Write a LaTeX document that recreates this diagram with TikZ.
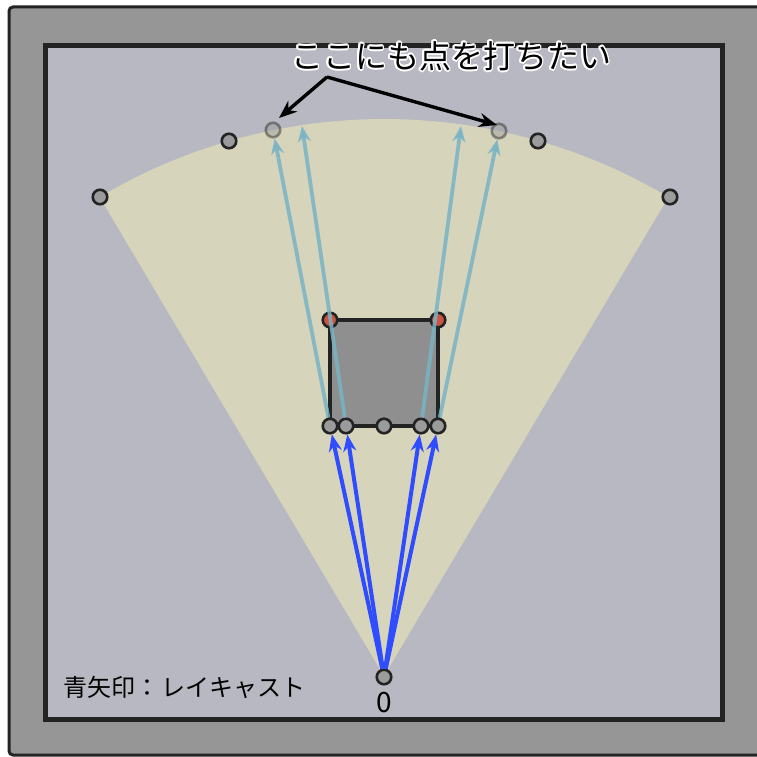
\documentclass[tikz,border=0pt]{standalone}
\usepackage{fontspec}
\setmainfont{Noto Sans CJK JP}
\usepackage{contour}
\contourlength{1.8pt}
\usetikzlibrary{arrows.meta}
\definecolor{casing}{HTML}{969696}
\definecolor{edge}{HTML}{232323}
\definecolor{field}{HTML}{B8B8C2}
\definecolor{fan}{HTML}{D6D4BA}
\definecolor{wall}{HTML}{8F8F8F}
\definecolor{dotgray}{HTML}{9B9B9B}
\definecolor{hit}{HTML}{CB5541}
\definecolor{ray}{HTML}{2F4CFF}
\definecolor{trail}{HTML}{78B4C6}

\begin{document}
\begin{tikzpicture}[x=1pt,y=-1pt,
  dot/.style={circle,draw=edge,fill=dotgray,line width=2.6pt,minimum size=14.5pt,inner sep=0pt},
  hitdot/.style={dot,fill=hit},
  ghost/.style={dot,draw opacity=.45,fill opacity=.45},
  cast/.style={ray,line width=4pt,-{Stealth[length=17pt,width=13pt]}},
  tracer/.style={trail,opacity=.85,line width=3.8pt,-{Stealth[length=16pt,width=13pt]}},
  pointer/.style={black,line width=3.4pt,-{Stealth[length=18pt,width=14pt]}}]
\useasboundingbox (0,0) rectangle (756,757);
\fill[white] (0,0) rectangle (756,757);
\fill[casing] (9,7) rectangle (800,755);
\draw[edge,line width=3pt,rounded corners=4pt] (800,7) -- (9,7) -- (9,755) -- (800,755);
\draw[edge,fill=field,line width=5pt] (45.5,45.5) rectangle (722,719.5);
\fill[fan] (384,676) -- ++(-59.3:557) arc[start angle=-59.3,end angle=-120.7,radius=557] -- cycle;
\draw[edge,fill=wall,line width=4pt] (330,320) rectangle (438,426);
% points on the arc
\node[dot] (p1) at (100,197) {}; \node[dot] (p2) at (229,141) {};
\node[ghost] (f1) at (273,130) {}; \node[ghost] (f2) at (499,131) {};
\node[dot] (p5) at (538,141) {}; \node[dot] (p6) at (670,197) {};
% box corners and hits
\node[hitdot] (c1) at (330,320) {}; \node[hitdot] (c2) at (438,320) {};
\node[dot] (b1) at (330,426) {}; \node[dot] (b2) at (346,426) {};
\node[dot] (b3) at (384,426) {}; \node[dot] (b4) at (421,426) {};
\node[dot] (b5) at (438,426) {};
\node[dot] (o) at (384,677) {};
\coordinate (t2) at (302,126); \coordinate (t4) at (461,126);
\draw[tracer] (b1) -- (f1); \draw[tracer] (b2) -- (t2);
\draw[tracer] (b4) -- (t4); \draw[tracer] (b5) -- (f2);
\draw[cast] (o) -- (b1); \draw[cast] (o) -- (b2);
\draw[cast] (o) -- (b4); \draw[cast] (o) -- (b5);
% annotation
\coordinate (fork) at (327,77); \coordinate (aimL) at (279,118); \coordinate (aimR) at (497,125);
\draw[pointer] (fork) -- (aimL); \draw[pointer] (fork) -- (aimR);
\node[font=\fontsize{32}{32}\selectfont] (note) at (451,57) {\contour{white}{ここにも点を打ちたい}};
\node[anchor=west,font=\fontsize{24}{26}\selectfont] (legend) at (60,687) {青矢印：\hspace{2pt}レイキャスト};
\node[font=\fontsize{28}{28}\selectfont] (zero) at (384,703) {0};
\end{tikzpicture}
\end{document}
